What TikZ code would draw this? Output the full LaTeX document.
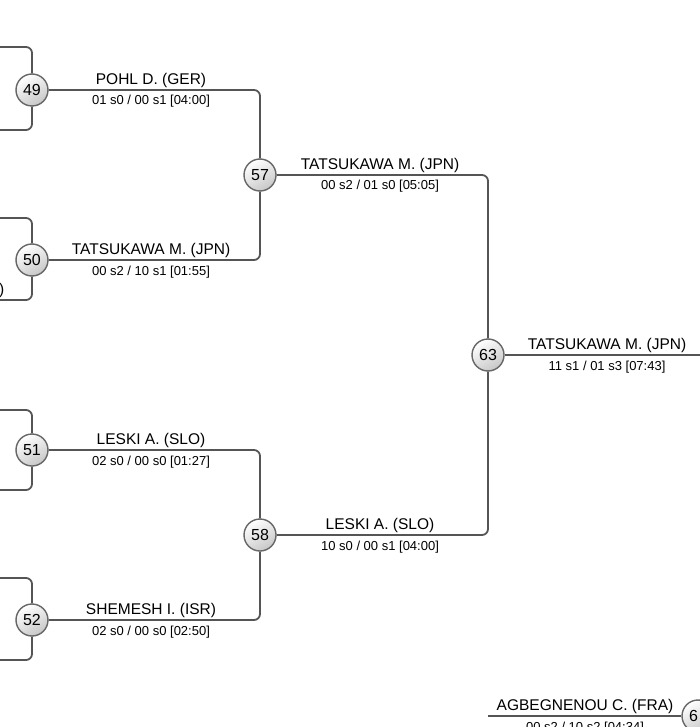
\documentclass[tikz,border=0pt]{standalone}
\usepackage{fontspec}
\setmainfont{Liberation Sans}
\definecolor{linegray}{HTML}{555555}
\definecolor{circborder}{HTML}{666666}
\begin{document}
\begin{tikzpicture}[x=1pt,y=-1pt,
  conn/.style={draw=linegray,line width=1.8pt,rounded corners=6pt},
  circ/.style={circle,draw=circborder,line width=1.4pt,minimum size=32pt,inner sep=0pt,
    top color=white,bottom color=black!22,shading angle=30,
    font=\fontsize{16}{19}\selectfont},
  pname/.style={anchor=base,inner sep=0pt,font=\fontsize{15.5}{18}\selectfont},
  pscore/.style={anchor=base,inner sep=0pt,font=\fontsize{13}{15}\selectfont}]
\useasboundingbox (0,0) rectangle (700,727);
\clip (0,0) rectangle (700,727);
% left edge coordinates
\coordinate (l49a) at (0,47);
\coordinate (l49b) at (0,130);
\coordinate (l50a) at (0,218);
\coordinate (l50b) at (0,300);
\coordinate (l51a) at (0,410);
\coordinate (l51b) at (0,490);
\coordinate (l52a) at (0,578);
\coordinate (l52b) at (0,660);
\coordinate (r63) at (715,355);
\coordinate (b6x) at (488,716);
% circles
\node[circ] (c49) at (32,90) {49};
\node[circ] (c50) at (32,260) {50};
\node[circ] (c51) at (32,450) {51};
\node[circ] (c52) at (32,620) {52};
\node[circ] (c57) at (260,175) {57};
\node[circ] (c58) at (260,535) {58};
\node[circ] (c63) at (488,355) {63};
\node[circ] (c6x) at (698,716) {6\phantom{4}};
% connectors
\draw[conn] (l49a) -| (c49);
\draw[conn] (l49b) -| (c49);
\draw[conn] (l50a) -| (c50);
\draw[conn] (l50b) -| (c50);
\draw[conn] (l51a) -| (c51);
\draw[conn] (l51b) -| (c51);
\draw[conn] (l52a) -| (c52);
\draw[conn] (l52b) -| (c52);
\draw[conn] (c49) -| (c57);
\draw[conn] (c50) -| (c57);
\draw[conn] (c51) -| (c58);
\draw[conn] (c52) -| (c58);
\draw[conn] (c57) -| (c63);
\draw[conn] (c58) -| (c63);
\draw[conn] (c63) -- (r63);
\draw[conn] (b6x) -- (c6x);
% labels
\node[pname] (n49) at (151,84.5) {POHL D. (GER)};
\node[pscore] (s49) at (151,105) {01 s0 / 00 s1 [04:00]};
\node[pname] (n50) at (151,254.5) {TATSUKAWA M. (JPN)};
\node[pscore] (s50) at (151,275) {00 s2 / 10 s1 [01:55]};
\node[pname] (n51) at (151,444.5) {LESKI A. (SLO)};
\node[pscore] (s51) at (151,465) {02 s0 / 00 s0 [01:27]};
\node[pname] (n52) at (151,614.5) {SHEMESH I. (ISR)};
\node[pscore] (s52) at (151,635) {02 s0 / 00 s0 [02:50]};
\node[pname] (n57) at (380,169.5) {TATSUKAWA M. (JPN)};
\node[pscore] (s57) at (380,190) {00 s2 / 01 s0 [05:05]};
\node[pname] (n58) at (380,529.5) {LESKI A. (SLO)};
\node[pscore] (s58) at (380,550) {10 s0 / 00 s1 [04:00]};
\node[pname] (n63) at (607,349.5) {TATSUKAWA M. (JPN)};
\node[pscore] (s63) at (607,370) {11 s1 / 01 s3 [07:43]};
\node[pname] (n6x) at (585,710.5) {AGBEGNENOU C. (FRA)};
\node[pscore] (s6x) at (585,731) {00 s2 / 10 s2 [04:34]};
\node[pname,anchor=base east] (n50b) at (4.5,294.5) {)};
\end{tikzpicture}
\end{document}
